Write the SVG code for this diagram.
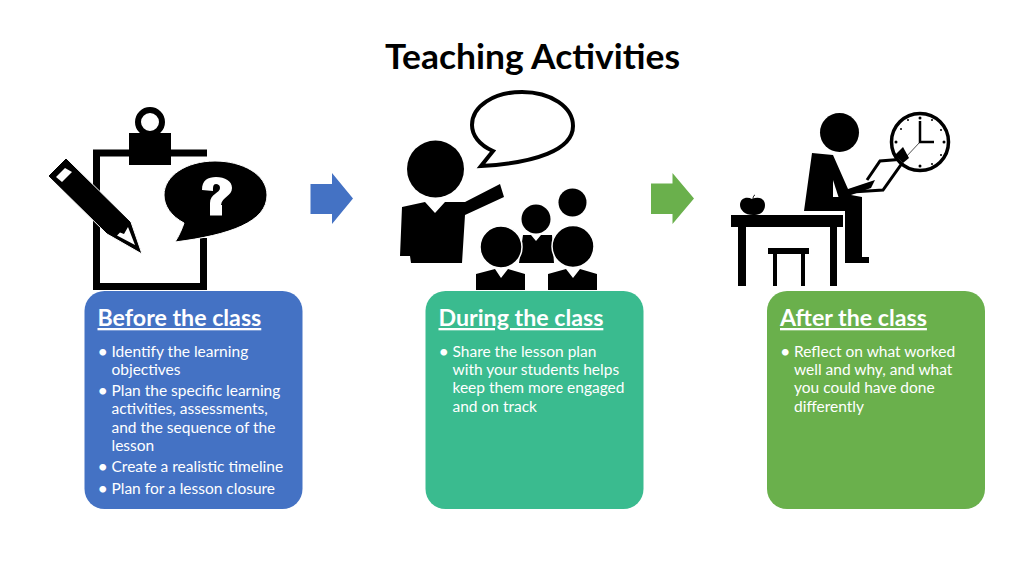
<svg xmlns="http://www.w3.org/2000/svg" width="1024" height="576" viewBox="0 0 1024 576">
<style>
text{font-family:Lato,"Liberation Sans",sans-serif}
.title{font-size:34px;font-weight:700;fill:#000}
.card{stroke:none}
.head{font-size:23.200px;font-weight:700;fill:#fff;text-decoration:underline}
.body{font-size:15.500px;fill:#fff}
.dot{font-size:18px}
.k{fill:#000;stroke:none}
.o{fill:none;stroke:#000}
.w{fill:#fff;stroke:none}
</style>
<rect width="1024" height="576" fill="#fff"/>
<text id="title" class="title" x="385" y="69" textLength="295" lengthAdjust="spacingAndGlyphs">Teaching Activities</text>

<g id="icon-before">
<path class="o" stroke-width="7" d="M207 153H96.500V286.500H203.500V238"/>
<path class="k" d="M129 133H171V165H129Z"/>
<circle class="o" cx="150" cy="122" r="12" stroke-width="6"/>
<path d="M66 158 131 222 142 254 107 234 48 176Z" fill="#000" stroke="#fff" stroke-width="1" stroke-linejoin="round"/>
<path class="w" d="M65 168 72 172 62 182 56 177Z"/>
<path class="w" d="M128 227 135 245 117 235.500 120 232.500 124 234Z"/>
<path d="M215 161C242 161 267 174 267 195C267 222 230 235 175 242C179 236 182 229 184 223C171 216 164 206 164 195C164 176 186 161 215 161Z" fill="#000" stroke="#fff" stroke-width="1"/>
<path class="w" d="M202 190C202 180 208 177 216 177C225 177 232 181 232 188C232 196 222 197 221 205V208H210V203C210 194 220 193 220 188C220 185 218 184 216 184C213 184 213 187 213 191Z"/>
<path class="w" d="M210 205H222V215.500H210Z"/>
</g>

<g id="arrow-1"><path fill="#4472c4" d="M310.500 184H332V173L353 198.500 332 224V214H310.500Z"/></g>

<g id="icon-during">
<path fill="#fff" stroke="#000" stroke-width="4" d="M522 92C551 92 573 107 573 126C573 150 535 163 481 166C485 161 489 156 493 151C479 145 472 135 472 125C472 106 494 92 522 92Z"/>
<circle class="k" cx="435.500" cy="169" r="28.500"/>
<path class="k" d="M402 207 425 202 435 213 445 202 465 202 500 184 504 197 465 215 462 263H411L410 256H400Z"/>
<circle class="k" cx="572.500" cy="202.500" r="14"/>
<circle class="k" cx="536" cy="219" r="14.500"/>
<path class="k" d="M523 235 531 235 536 241 541 235 552 235 554 263H519Z"/>
<circle cx="501" cy="247" r="21" fill="#000" stroke="#fff" stroke-width="1.500"/>
<circle cx="573" cy="246.500" r="21" fill="#000" stroke="#fff" stroke-width="1.500"/>
<path class="k" d="M476 274 495 269 501 278 508 269 525 274V290H476Z"/>
<path class="k" d="M548 274 566 269 573 278 580 269 597 274V290H548Z"/>
</g>

<g id="arrow-2"><path fill="#6ab04c" d="M651 183.500H672.500V173L694 198.500 672.500 224V214H651Z"/></g>

<g id="icon-after">
<circle class="k" cx="839.500" cy="132.500" r="19.500"/>
<path class="k" d="M812 153 833 155 848 189 875 180 871 188 851 195 862 197V257H869V263H845V211H804Z"/>
<path class="w" d="M833 180V197H838.500Z"/>
<path class="o" stroke-width="3" d="M867 180 880 161 905 159 883 190 852 192"/>
<circle cx="920" cy="142" r="28.500" fill="#fff" stroke="#000" stroke-width="3.500"/>
<path class="o" stroke-width="2.500" d="M920 121V142H934"/>
<path class="o" stroke-width="0.700" d="M920 142 905 158"/>
<g class="k"><circle cx="920" cy="118" r="1.500"/><circle cx="944" cy="142" r="1.500"/><circle cx="920" cy="166" r="1.500"/><circle cx="896" cy="142" r="1.500"/><circle cx="908" cy="120" r="1"/><circle cx="932" cy="120" r="1"/><circle cx="941" cy="130" r="1"/><circle cx="941" cy="155" r="1"/><circle cx="932" cy="164" r="1"/><circle cx="901" cy="129" r="1"/></g>
<path class="k" d="M903 147 909 158 903 163 895 155Z"/>
<path class="k" d="M731 215H843V227H731ZM738 227H746V286H738ZM830 227H837V286H830Z"/>
<path class="k" d="M768 248H809V254H768ZM773 254H777V286H773ZM801 254H805V286H801Z"/>
<path class="k" d="M752 199C758 196 765 198 765 205C765 211 761 215 753 215C745 215 740 210 740 205C740 198 747 196 752 199Z"/>
<path class="o" stroke-width="1" d="M753 199C753 197 754 195 755 195"/>
</g>

<g id="card-before">
<rect class="card" x="84.500" y="291" width="218" height="218" rx="20" fill="#4472c4"/>
<text class="head" x="97.500" y="326">Before the class</text>
<g class="body">
<text class="dot" x="97.500" y="358">•</text><text x="111.500" y="357">Identify the learning</text>
<text x="111.500" y="375">objectives</text>
<text class="dot" x="97.500" y="397">•</text><text x="111.500" y="396">Plan the specific learning</text>
<text x="111.500" y="414">activities, assessments,</text>
<text x="111.500" y="433">and the sequence of the</text>
<text x="111.500" y="451">lesson</text>
<text class="dot" x="97.500" y="473">•</text><text x="111.500" y="472">Create a realistic timeline</text>
<text class="dot" x="97.500" y="495">•</text><text x="111.500" y="494">Plan for a lesson closure</text>
</g>
</g>

<g id="card-during">
<rect class="card" x="425.500" y="291" width="218" height="218" rx="20" fill="#3abb8f"/>
<text class="head" x="438.500" y="326">During the class</text>
<g class="body">
<text class="dot" x="438.500" y="358">•</text><text x="452.500" y="357">Share the lesson plan</text>
<text x="452.500" y="375">with your students helps</text>
<text x="452.500" y="393">keep them more engaged</text>
<text x="452.500" y="412">and on track</text>
</g>
</g>

<g id="card-after">
<rect class="card" x="767" y="291" width="218" height="218" rx="20" fill="#6ab04c"/>
<text class="head" x="780" y="326">After the class</text>
<g class="body">
<text class="dot" x="780" y="358">•</text><text x="794" y="357">Reflect on what worked</text>
<text x="794" y="375">well and why, and what</text>
<text x="794" y="393">you could have done</text>
<text x="794" y="412">differently</text>
</g>
</g>
</svg>
